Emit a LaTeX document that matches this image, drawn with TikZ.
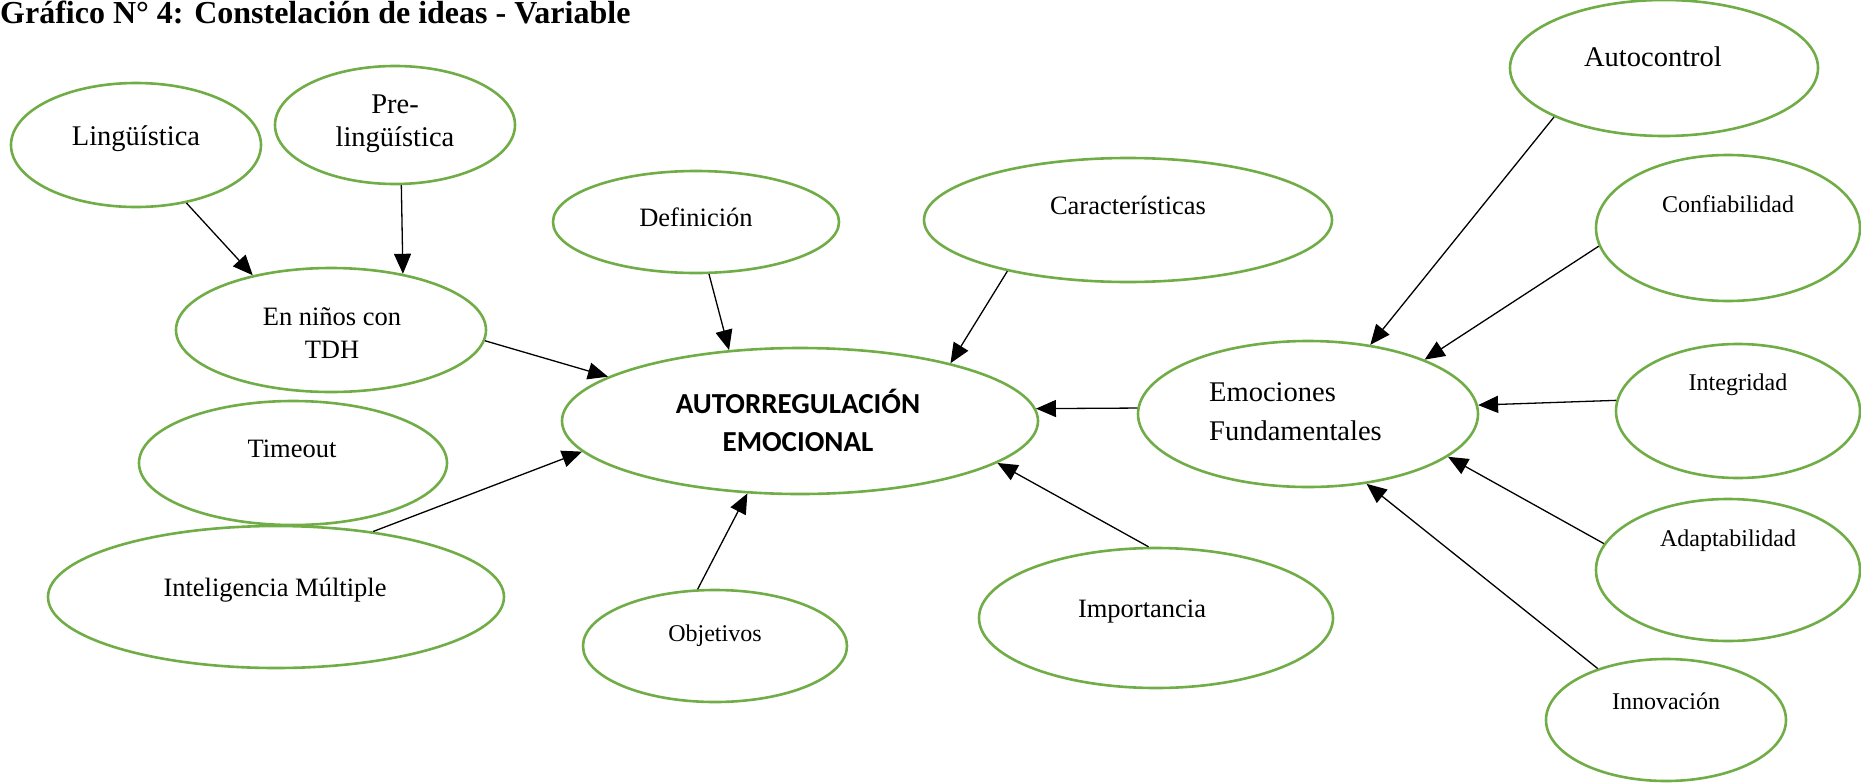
\documentclass[tikz,border=0pt]{standalone}
\usepackage{fontspec}
\setmainfont{Liberation Serif}
\newfontfamily\carlitofont{Carlito}
\usetikzlibrary{shapes.geometric,arrows.meta}
\definecolor{ellgreen}{HTML}{70AD47}
\begin{document}
\begin{tikzpicture}[x=1pt,y=-1pt,
  ell/.style args={#1/#2}{ellipse, draw=ellgreen, line width=2.6pt, minimum width=#1pt, minimum height=#2pt, inner sep=0pt},
  lbl/.style={inner sep=0pt, align=center, text=black},
  fsA/.style={font=\fontsize{28.5}{33}\selectfont},
  fsB/.style={font=\fontsize{26.5}{33}\selectfont},
  fsC/.style={font=\fontsize{24}{30}\selectfont},
  conn/.style={-{Triangle[length=20pt,width=17pt]}, line width=1.3pt, black}]
\useasboundingbox (0,0) rectangle (1861,782);
% title
\node[anchor=base west, inner sep=0pt, font=\bfseries\fontsize{32}{38}\selectfont] (title) at (0,23) {Gráfico N° 4: Constelación de ideas - Variable};
% ellipses
\node[ell=250/124] (ling) at (136,145) {};
\node[ell=240/118] (prel) at (395,125) {};
\node[ell=286/102] (defi) at (696,222) {};
\node[ell=408/124] (cara) at (1128,220) {};
\node[ell=308/136] (autoc) at (1664,68) {};
\node[ell=264/146] (conf) at (1728,228) {};
\node[ell=310/124] (tdh) at (331,330) {};
\node[ell=476/146] (auto) at (800,421) {};
\node[ell=340/146] (emo) at (1308,414) {};
\node[ell=244/134] (integ) at (1738,411) {};
\node[ell=308/124] (timeo) at (293,463) {};
\node[ell=264/142] (adapt) at (1728,570) {};
\node[ell=456/142] (intel) at (276,597) {};
\node[ell=264/112] (obj) at (715,646) {};
\node[ell=354/140] (imp) at (1156,618) {};
\node[ell=240/122] (innov) at (1666,720) {};
% texts
\node[lbl,fsA] (ling-t) at (136,139) {Lingüística};
\node[lbl,fsA] (prel-t) at (395,124) {Pre-\\lingüística};
\node[lbl,fsB] (defi-t) at (696,217) {Definición};
\node[lbl,fsB] (cara-t) at (1128,205) {Características};
\node[lbl,fsA] (autoc-t) at (1653,57) {Autocontrol};
\node[lbl,fsC] (conf-t) at (1728,204) {Confiabilidad};
\node[lbl,fsB] (tdh-t) at (332,333) {En niños con\\TDH};
\node[lbl,font=\carlitofont\bfseries\fontsize{29}{38}\selectfont] (auto-t) at (798,420) {AUTORREGULACIÓN\\EMOCIONAL};
\node[lbl,anchor=west,align=left,font=\fontsize{28.5}{39}\selectfont] (emo-t) at (1209,412) {Emociones\\Fundamentales};
\node[lbl,fsC] (integ-t) at (1738,385) {Integridad};
\node[lbl,fsB] (timeo-t) at (292,449) {Timeout};
\node[lbl,fsC] (adapt-t) at (1728,541) {Adaptabilidad};
\node[lbl,fsB] (intel-t) at (275,590) {Inteligencia Múltiple};
\node[lbl,fsC] (obj-t) at (715,636) {Objetivos};
\node[lbl,fsB] (imp-t) at (1142,612) {Importancia};
\node[lbl,fsC] (innov-t) at (1666,701) {Innovación};
% connectors
\draw[conn] (ling.-49) -- (tdh.145);
\draw[conn] (prel.-84) -- (tdh.38);
\draw[conn] (tdh.-4) -- (auto.167);
\draw[conn] (defi.-76) -- (auto.135);
\draw[conn] (cara.203) -- (auto.21);
\draw[conn] (emo.178) -- (auto.3);
\draw[conn] (intel.34) -- (auto.188);
\draw[conn] (obj.107) -- (auto.-126);
\draw[conn] (imp.96) -- (auto.-12);
\draw[conn] (autoc.204) -- (emo.48);
\draw[conn] (conf.188) -- (emo.25);
\draw[conn] (integ.175) -- (emo.3.5);
\draw[conn] (adapt.168) -- (emo.-17);
\draw[conn] (innov.143) -- (emo.-50);
\end{tikzpicture}
\end{document}
